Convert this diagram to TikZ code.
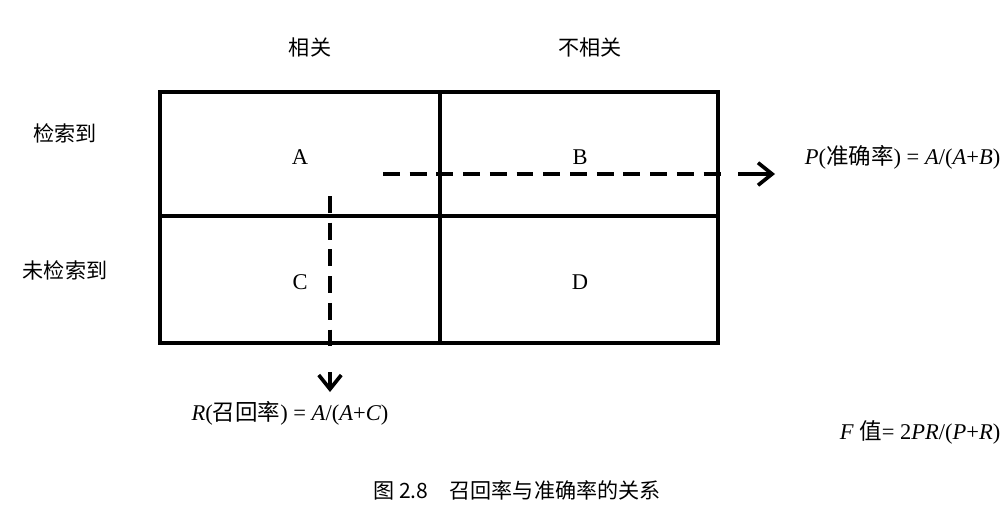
\documentclass[tikz,border=0pt]{standalone}
\usepackage{fontspec}
\setmainfont{Liberation Serif}
\newfontfamily\cjk{Noto Sans CJK SC}
\usetikzlibrary{arrows.meta}
\begin{document}
\begin{tikzpicture}[x=0.025cm,y=-0.025cm, lab/.style={font=\fontsize{15}{17}\selectfont\cjk}, cell/.style={font=\fontsize{16}{18}\selectfont}, dash line/.style={line width=2.4pt, dash pattern=on 12pt off 7pt}]
    \clip (0,0) rectangle (1004,521);
    \fill[white] (0,0) rectangle (1004,521);
    % grid
    \draw[line width=2.6pt] (160,92) rectangle (718,343);
    \draw[line width=2.6pt] (160,216) -- (718,216);
    \draw[line width=2.6pt] (440,92) -- (440,343);
    % headers
    \node[lab] (rel) at (310,47) {相关};
    \node[lab] (nrel) at (590,47) {不相关};
    \node[lab] (ret) at (65,133) {检索到};
    \node[lab] (nret) at (65,270) {未检索到};
    % cells
    \node[cell] (A) at (300,157) {A};
    \node[cell] (B) at (580,157) {B};
    \node[cell] (C) at (300,282) {C};
    \node[cell] (D) at (580,282) {D};
    % formulas
    \node[cell, anchor=east, inner sep=1pt] (P) at (1002,157) {\textit{P}({\cjk 准确率}) = \textit{A}/(\textit{A}+\textit{B})};
    \node[cell] (R) at (290,413) {\textit{R}({\cjk 召回率}) = \textit{A}/(\textit{A}+\textit{C})};
    \node[cell, anchor=east, inner sep=1pt] (F) at (1002,432) {\textit{F} {\cjk 值}= 2\textit{PR}/(\textit{P}+\textit{R})};
    \node[lab] (cap) at (517,490) {图 2.8\quad 召回率与准确率的关系};
    % arrows
    \coordinate (h0) at (383,174);
    \coordinate (h1) at (775,174);
    \coordinate (v0) at (330,196);
    \coordinate (v1) at (330,392);
    \draw[dash line] (h0) -- (730,174);
    \draw[line width=2.6pt, -{Straight Barb[length=10pt,width=16pt]}] (738,174) -- (h1);
    \draw[dash line] (v0) -- (330,350);
    \draw[line width=2.6pt, -{Straight Barb[length=10pt,width=16pt]}] (330,372) -- (v1);
\end{tikzpicture}
\end{document}
